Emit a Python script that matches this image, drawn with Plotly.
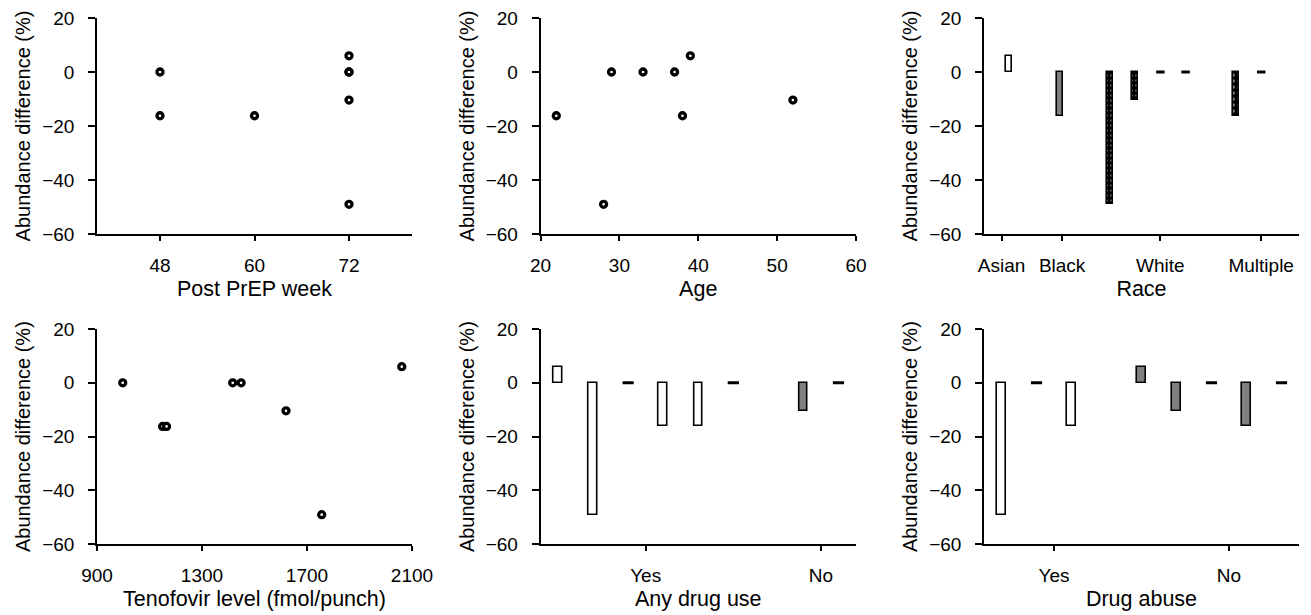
import plotly.graph_objects as go

# ---------------- data ----------------
week = [48, 48, 60, 72, 72, 72, 72, 72]
week_diff = [0, -16.2, -16.2, 6, 0, 0, -10.4, -49]

age = [22, 28, 29, 33, 37, 38, 39, 52]
age_diff = [-16.2, -49, 0, 0, 0, -16.2, 6, -10.4]

tenofovir = [998, 1150, 1165, 1417, 1449, 1620, 1756, 2061]
teno_diff = [0, -16.2, -16.2, 0, 0, -10.4, -49, 6]

race_slot = [0, 2, 4, 5, 6, 7, 9, 10]
race_diff = [6, -16.2, -49, -10.4, 0, 0, -16.2, 0]
race_group = ["Asian", "Black", "White", "White", "White", "White", "Multiple", "Multiple"]
race_tick_pos = [-0.3, 2.1, 6.0, 10.0]
race_tick_text = ["Asian", "Black", "White", "Multiple"]

drug_slot = [0, 1, 2, 3, 4, 5, 7, 8]
drug_diff = [6, -49, 0, -16.2, -16.2, 0, -10.4, 0]
drug_group = ["Yes", "Yes", "Yes", "Yes", "Yes", "Yes", "No", "No"]
drug_tick_pos = [2.5, 7.5]
drug_tick_text = ["Yes", "No"]

abuse_slot = [0, 1, 2, 4, 5, 6, 7, 8]
abuse_diff = [-49, 0, -16.2, 6, -10.4, 0, -16.2, 0]
abuse_group = ["Yes", "Yes", "Yes", "No", "No", "No", "No", "No"]
abuse_tick_pos = [1.5, 6.5]
abuse_tick_text = ["Yes", "No"]

y_ticks = [-60, -40, -20, 0, 20]
y_title = "Abundance difference (%)"

# ---------------- styles ----------------
FONT = "Liberation Sans, Arial, Helvetica, sans-serif"
TICK_SIZE = 19
XTITLE_SIZE = 21.5
YTITLE_SIZE = 20
GRAY = "#808080"

styles = {
    "white": dict(marker_color="white"),
    "gray": dict(marker_color=GRAY),
    "dots": dict(marker_color="black",
                 marker_pattern=dict(shape=".", fgcolor="white", bgcolor="black",
                                     size=5, solidity=0.2)),
    "tri": dict(marker_color="black",
                marker_pattern=dict(shape=".", fgcolor="white", bgcolor="black",
                                    size=6, solidity=0.3)),
}
race_style = {"Asian": "white", "Black": "gray", "White": "dots", "Multiple": "tri"}
yesno_style = {"Yes": "white", "No": "gray"}

fig = go.Figure()

def add_scatter(xs, ys, ax):
    fig.add_trace(go.Scatter(
        x=xs, y=ys, mode="markers", xaxis="x" + ax, yaxis="y" + ax,
        marker=dict(symbol="circle", size=6, color="white",
                    line=dict(color="black", width=3.3)),
        showlegend=False, hoverinfo="x+y"))

def add_bars(slots, vals, groups, stylemap, ax, width, dash_size):
    for g in dict.fromkeys(groups):
        xs = [s for s, v, gg in zip(slots, vals, groups) if gg == g and v != 0]
        ys = [v for s, v, gg in zip(slots, vals, groups) if gg == g and v != 0]
        if xs:
            st = styles[stylemap[g]]
            fig.add_trace(go.Bar(
                x=xs, y=ys, width=width, xaxis="x" + ax, yaxis="y" + ax,
                marker_line=dict(color="black", width=1.6),
                showlegend=False, **st))
    zx = [s for s, v in zip(slots, vals) if v == 0]
    zy = [v for v in vals if v == 0]
    fig.add_trace(go.Scatter(
        x=zx, y=zy, mode="markers", xaxis="x" + ax, yaxis="y" + ax,
        marker=dict(symbol="line-ew", size=dash_size,
                    line=dict(color="black", width=3)),
        showlegend=False))

add_scatter(week, week_diff, "")
add_scatter(age, age_diff, "2")
add_bars(race_slot, race_diff, race_group, race_style, "3", 0.24, 6)
add_scatter(tenofovir, teno_diff, "4")
add_bars(drug_slot, drug_diff, drug_group, yesno_style, "5", 0.24, 8)
add_bars(abuse_slot, abuse_diff, abuse_group, yesno_style, "6", 0.24, 8)

W, H = 1311, 615
cols = [(97, 412), (540.5, 856), (984, 1299)]
rows = [(18, 234), (329, 544.3)]

def xdom(c):
    return [cols[c][0] / W, cols[c][1] / W]

def ydom(r):
    return [1 - rows[r][1] / H, 1 - rows[r][0] / H]

axis_common = dict(showline=True, linecolor="black", linewidth=1.5,
                   ticks="outside", tickcolor="black", tickwidth=1.5,
                   showgrid=False, zeroline=False, automargin=False,
                   tickfont=dict(family=FONT, size=TICK_SIZE, color="black"))

def xaxis(c, r, anchor, title, rng, tickvals, ticktext=None):
    d = dict(axis_common, domain=xdom(c), anchor=anchor, range=rng,
             tickvals=tickvals, ticklen=5, ticklabelstandoff=8,
             title=dict(text=title, standoff=6,
                        font=dict(family=FONT, size=XTITLE_SIZE, color="black")))
    if ticktext is not None:
        d["ticktext"] = ticktext
    return d

def yaxis(c, r, anchor):
    return dict(axis_common, domain=ydom(r), anchor=anchor, range=[-60, 20],
                tickvals=y_ticks, ticklen=7, ticklabelstandoff=10,
                title=dict(text=y_title, standoff=6,
                           font=dict(family=FONT, size=YTITLE_SIZE, color="black")))

fig.update_layout(
    width=W, height=H,
    margin=dict(l=0, r=0, t=0, b=0),
    paper_bgcolor="white", plot_bgcolor="white",
    bargap=0, barmode="overlay",
    font=dict(family=FONT, color="black"),
    xaxis=xaxis(0, 0, "y", "Post PrEP week", [40, 80], [48, 60, 72]),
    yaxis=yaxis(0, 0, "x"),
    xaxis2=xaxis(1, 0, "y2", "Age", [20, 60], [20, 30, 40, 50, 60]),
    yaxis2=yaxis(1, 0, "x2"),
    xaxis3=xaxis(2, 0, "y3", "Race", [-1, 11.5], race_tick_pos, race_tick_text),
    yaxis3=yaxis(2, 0, "x3"),
    xaxis4=xaxis(0, 1, "y4", "Tenofovir level (fmol/punch)", [900, 2100],
                 [900, 1300, 1700, 2100]),
    yaxis4=yaxis(0, 1, "x4"),
    xaxis5=xaxis(1, 1, "y5", "Any drug use", [-0.5, 8.5], drug_tick_pos, drug_tick_text),
    yaxis5=yaxis(1, 1, "x5"),
    xaxis6=xaxis(2, 1, "y6", "Drug abuse", [-0.5, 8.5], abuse_tick_pos, abuse_tick_text),
    yaxis6=yaxis(2, 1, "x6"),
)

fig.write_html(
    "out.html",
    config={"displayModeBar": False},
    post_script="document.body.style.margin='0';document.body.style.overflow='hidden';",
)
